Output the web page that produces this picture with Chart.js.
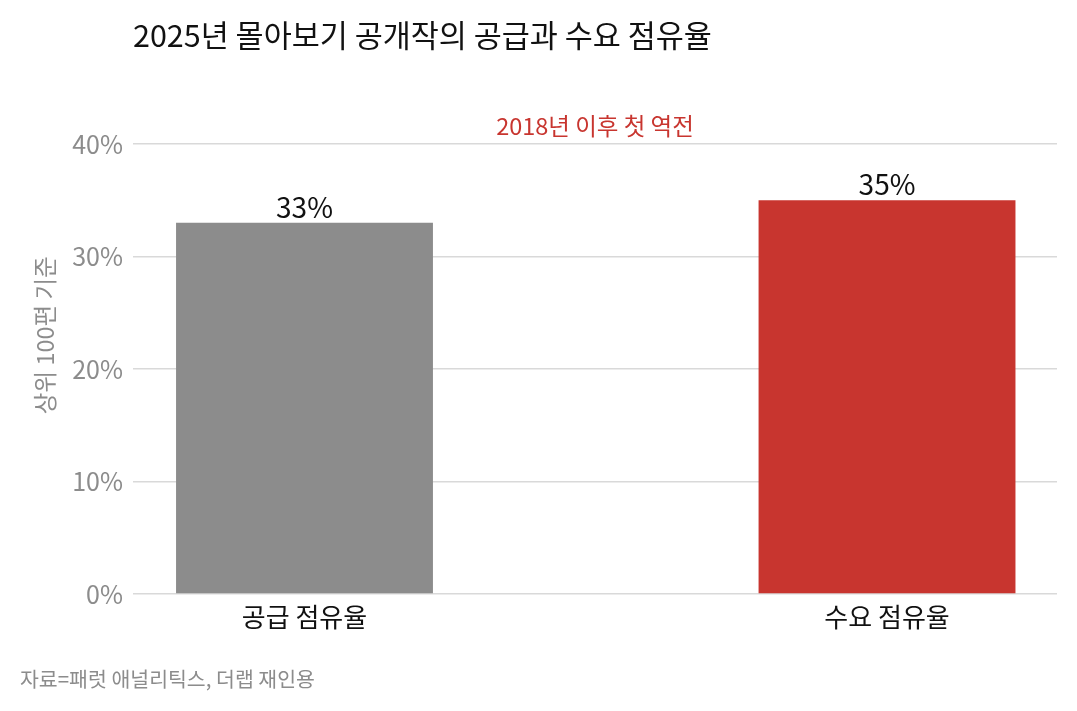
<!DOCTYPE html>
<html lang="ko">
<head>
<meta charset="utf-8">
<title>2025년 몰아보기 공개작의 공급과 수요 점유율</title>
<script src="https://cdn.jsdelivr.net/npm/chart.js@4.4.1/dist/chart.umd.min.js"></script>
<style>
  html, body { margin: 0; padding: 0; background: #fff; }
  #wrap { width: 1077px; height: 711px; position: relative; }
</style>
</head>
<body>
<div id="wrap"><canvas id="chart"></canvas></div>
<script>
// data
const categories = ['공급 점유율', '수요 점유율'];
const shares = [33, 35];
const barColors = ['#8c8c8c', '#c8352f'];
const yTicks = [0, 10, 20, 30, 40];

const titleText = '2025년 몰아보기 공개작의 공급과 수요 점유율';
const noteText = '2018년 이후 첫 역전';
const noteValue = 41.6;
const sourceText = '자료=패럿 애널리틱스, 더랩 재인용';
const yTitle = '상위 100편 기준';

const FONT = '"Noto Sans CJK KR", "Noto Sans", sans-serif';

// title, footer, note and value labels
const textPlugin = {
  id: 'texts',
  afterDatasetsDraw(chart) {
    const ctx = chart.ctx;
    const area = chart.chartArea;
    const y = chart.scales.y;
    ctx.save();

    // value labels over bars
    ctx.fillStyle = '#111';
    ctx.font = '28px ' + FONT;
    ctx.textAlign = 'center';
    ctx.textBaseline = 'alphabetic';
    chart.getDatasetMeta(0).data.forEach((bar, i) => {
      ctx.fillText(shares[i] + '%', bar.x, bar.y - 5);
    });

    // red note
    ctx.fillStyle = '#c8352f';
    ctx.font = '23.5px ' + FONT;
    ctx.textBaseline = 'middle';
    ctx.fillText(noteText, (area.left + area.right) / 2, y.getPixelForValue(noteValue));

    // title
    ctx.textAlign = 'left';
    ctx.fillStyle = '#111';
    ctx.font = '30.5px ' + FONT;
    ctx.fillText(titleText, 133, 35);

    // source
    ctx.fillStyle = '#8c8c8c';
    ctx.font = '20.5px ' + FONT;
    ctx.fillText(sourceText, 20, 679);
    ctx.restore();
  }
};

new Chart(document.getElementById('chart'), {
  type: 'bar',
  data: {
    datasets: [{
      data: categories.map((c, i) => ({ x: i, y: shares[i] })),
      backgroundColor: barColors,
      barPercentage: 0.441,
      categoryPercentage: 1,
    }],
  },
  options: {
    responsive: true,
    maintainAspectRatio: false,
    animation: false,
    layout: { padding: { top: 76.5, right: 20, left: 0, bottom: 0 } },
    plugins: {
      legend: { display: false },
      tooltip: { enabled: false },
    },
    scales: {
      x: {
        type: 'linear',
        offset: false,
        min: -0.2944,
        max: 1.2918,
        grid: { display: false },
        border: { display: false },
        afterBuildTicks: (scale) => { scale.ticks = categories.map((c, i) => ({ value: i })); },
        afterFit: (scale) => { scale.height = 117; },
        ticks: {
          padding: 0,
          color: '#111',
          font: { family: FONT, size: 26 },
          callback: (v) => categories[v],
        },
      },
      y: {
        min: 0,
        max: 46,
        border: { display: false },
        grid: { color: '#d9d9d9', lineWidth: 1.5, drawTicks: false },
        afterBuildTicks: (scale) => { scale.ticks = yTicks.map(v => ({ value: v })); },
        afterFit: (scale) => { scale.width = 133; },
        ticks: {
          padding: 10,
          color: '#8c8c8c',
          font: { family: FONT, size: 25 },
          callback: (v) => v + '%',
        },
        title: {
          display: true,
          text: yTitle,
          color: '#8c8c8c',
          font: { family: FONT, size: 23.5 },
          padding: { top: 31, bottom: 0 },
        },
      },
    },
  },
  plugins: [textPlugin],
});
</script>
</body>
</html>
